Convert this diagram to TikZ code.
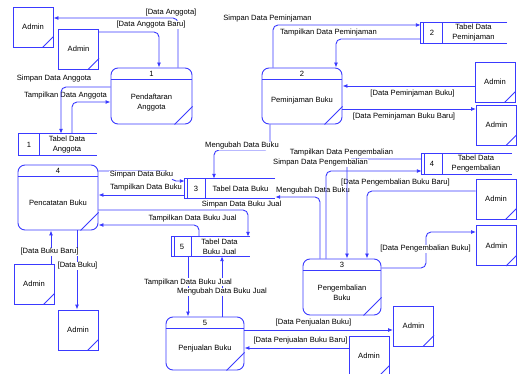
\documentclass[tikz,border=0pt]{standalone}
\usepackage{fontspec}
\setmainfont{Liberation Sans}
\usetikzlibrary{arrows.meta}
\definecolor{blu}{RGB}{58,58,255}
\newcommand\entcorner[1]{\draw[ln] ([xshift=-11pt]#1.south east) -- ([yshift=11pt]#1.south east);}
\newcommand\procdeco[1]{%
  \draw[ln] ([yshift=-11.5pt]#1.north west) -- ([yshift=-11.5pt]#1.north east);
  \draw[ln] ([yshift=18pt]#1.south east) -- ([xshift=-18pt]#1.south east);}
\newcommand\storebox[2]{%
  \draw[ln] (#1.north east) -- (#1.north west) -- (#1.south west) -- (#1.south east);
  \draw[ln] (#1.north west -| #2,0) -- (#1.south west -| #2,0);}
\newcommand\storedbl[1]{\draw[ln] ([xshift=3pt]#1.north west) -- ([xshift=3pt]#1.south west);}
\begin{document}
\begin{tikzpicture}[x=1pt,y=-1pt,
  ln/.style={draw=blu,line width=0.9pt},
  flow/.style={ln,rounded corners=5pt,-{Latex[length=5pt,width=4pt]}},
  lbl/.style={font=\fontsize{7.6}{9}\selectfont,fill=white,inner sep=0.5pt,text=black,text height=5.6pt,text depth=1.6pt},
  txt/.style={font=\fontsize{7.6}{10}\selectfont,align=center,inner sep=0pt,text=black},
  ent/.style={ln,minimum width=40pt,minimum height=40pt,inner sep=0pt,text=black,font=\fontsize{7.6}{10}\selectfont},
  proc/.style={ln,rounded corners=7pt,inner sep=0pt},
  sto/.style={inner sep=0pt}]
\useasboundingbox (0,0) rectangle (517,374);

% external entities
\node[ent] (a1) at (33,27) {Admin}; \entcorner{a1}
\node[ent] (a2) at (78.5,49) {Admin}; \entcorner{a2}
\node[ent] (a3) at (495,82) {Admin}; \entcorner{a3}
\node[ent] (a4) at (496.5,125) {Admin}; \entcorner{a4}
\node[ent] (a9) at (496,199) {Admin}; \entcorner{a9}
\node[ent] (a10) at (496.5,245.5) {Admin}; \entcorner{a10}
\node[ent] (a5) at (34,284) {Admin}; \entcorner{a5}
\node[ent] (a6) at (78,330) {Admin}; \entcorner{a6}
\node[ent] (a7) at (413.5,326) {Admin}; \entcorner{a7}
\node[ent] (a8) at (369,356) {Admin}; \entcorner{a8}

% processes
\node[proc,minimum width=81pt,minimum height=56pt] (p1) at (151.5,96) {}; \procdeco{p1}
\node[txt] (p1n) at (151.5,74) {1};
\node[txt] (p1t) at (151.5,102.5) {Pendaftaran\\Anggota};
\node[proc,minimum width=80pt,minimum height=56pt] (p2) at (302,96) {}; \procdeco{p2}
\node[txt] (p2n) at (302,73.5) {2};
\node[txt] (p2t) at (302,101) {Peminjaman Buku};
\node[proc,minimum width=80pt,minimum height=65pt] (p4) at (58,197.5) {}; \procdeco{p4}
\node[txt] (p4n) at (58,170.5) {4};
\node[txt] (p4t) at (58,203) {Pencatatan Buku};
\node[proc,minimum width=78pt,minimum height=53pt] (p5) at (205,343.5) {}; \procdeco{p5}
\node[txt] (p5n) at (205,322.5) {5};
\node[txt] (p5t) at (205,349) {Penjualan Buku};
\node[proc,minimum width=78pt,minimum height=56pt] (p3) at (342,287) {}; \procdeco{p3}
\node[txt] (p3n) at (342,264.5) {3};
\node[txt] (p3t) at (342,292.5) {Pengembalian\\Buku};

% data stores
\node[sto,minimum width=78pt,minimum height=21pt] (s1) at (58,144.5) {}; \storebox{s1}{39}
\node[txt] (s1n) at (29,144.5) {1};
\node[txt] (s1t) at (67,144.5) {Tabel Data\\Anggota};
\node[sto,minimum width=86pt,minimum height=20pt] (s2) at (464,33) {}; \storebox{s2}{442} \storedbl{s2}
\node[txt] (s2n) at (432,33) {2};
\node[txt] (s2t) at (473.5,33) {Tabel Data\\Peminjaman};
\node[sto,minimum width=90pt,minimum height=19pt] (s3) at (230,188.5) {}; \storebox{s3}{205} \storedbl{s3}
\node[txt] (s3n) at (196,188.5) {3};
\node[txt] (s3t) at (240.5,188.5) {Tabel Data Buku};
\node[sto,minimum width=90pt,minimum height=20pt] (s4) at (467,164) {}; \storebox{s4}{442} \storedbl{s4}
\node[txt] (s4n) at (432,164) {4};
\node[txt] (s4t) at (476,164) {Tabel Data\\Pengembalian};
\node[sto,minimum width=78pt,minimum height=19pt] (s5) at (211,246.5) {}; \storebox{s5}{191} \storedbl{s5}
\node[txt] (s5n) at (182,246.5) {5};
\node[txt] (s5t) at (219.5,246.5) {Tabel Data\\Buku Jual};

% flows (group A)
\draw[flow] (p1.north -| 178,0) |- (a1.east |- 0,18);
\draw[flow] (a2.east |- 0,32) -| (p1.north -| 159,0);
\draw[flow] (s1.north -| 72,0) |- (p1.west |- 0,102);
\draw[flow] (p2.north -| 273,0) |- (s2.west |- 0,25);
\draw[flow] (s2.west |- 0,39) -| (p2.north -| 336,0);
\draw[flow] (a3.west |- 0,86) -- (p2.east |- 0,86);
\draw[flow] (p2.east |- 0,109) -- (a4.west |- 0,109);
\draw[flow] (p2.south -| 270,0) -- (270,150) -| (s3.north -| 214,0);
\draw[flow] (p4.east |- 0,171) -- (171,171) |- (s3.west |- 0,181);
\draw[flow] (s3.west |- 0,195) -- (p4.east |- 0,195);
\draw[flow] (p4.east |- 0,210) -| (s5.north -| 248,0);
\draw[flow] (s5.north -| 199,0) |- (p4.east |- 0,225);
\draw[flow] (a5.north -| 51,0) -- (p4.south -| 51,0);
\draw[flow] (p4.south -| 77,0) -- (a6.north -| 77,0);
\draw[flow] (s5.south -| 188,0) -- (p5.north -| 188,0);
\draw[flow] (p5.north -| 222,0) -- (s5.south -| 222,0);
\draw[flow] (p5.east |- 0,330) -- (a7.west |- 0,330);
\draw[flow] (a8.west |- 0,348) -- (p5.east |- 0,348);
\draw[flow] (p3.north -| 320,0) |- (s3.east |- 0,197);
\draw[flow] (p3.east |- 0,268) -- (426,268) |- (a10.west |- 0,232);

% labels (group A)
\node[lbl] (l1) at (171,13) {[Data Anggota]};
\node[lbl] (l2) at (151,25) {[Data Anggota Baru]};
\node[lbl] (l3) at (54,79) {Simpan Data Anggota};
\node[lbl] (l4) at (65.5,96) {Tampilkan Data Anggota};
\node[lbl] (l5) at (267.5,19) {Simpan Data Peminjaman};
\node[lbl] (l6) at (328.5,33) {Tampilkan Data Peminjaman};
\node[lbl] (l7) at (412.5,94) {[Data Peminjaman Buku]};
\node[lbl] (l8) at (404,117) {[Data Peminjaman Buku Baru]};
\node[lbl] (l9) at (242,146) {Mengubah Data Buku};
\node[lbl] (l10) at (141.5,175) {Simpan Data Buku};
\node[lbl] (l11) at (146,188) {Tampilkan Data Buku};
\node[lbl] (l12) at (241.5,205) {Simpan Data Buku Jual};
\node[lbl] (l13) at (192.5,219) {Tampilkan Data Buku Jual};
\node[lbl] (l14) at (49.5,252) {[Data Buku Baru]};
\node[lbl] (l15) at (77.5,266) {[Data Buku]};
\node[lbl] (l16) at (188,282) {Tampilkan Data Buku Jual};
\node[lbl] (l17) at (222,292) {Mengubah Data Buku Jual};
\node[lbl] (l18) at (313.5,322) {[Data Penjualan Buku]};
\node[lbl] (l19) at (300.5,340) {[Data Penjualan Buku Baru]};
\node[lbl] (l20) at (313,191) {Mengubah Data Buku};
\node[lbl] (l21) at (425.5,249) {[Data Pengembalian Buku]};

% flows and labels (group B)
\draw[flow] (p1.west |- 0,87) -| (s1.north -| 61,0);
\draw[flow] (a9.west |- 0,191) -| (p3.north -| 367,0);
\node[lbl] (l22) at (395.5,183) {[Data Pengembalian Buku Baru]};
\draw[flow] (s4.west |- 0,159) -| (p3.north -| 347,0);
\draw[flow] (p3.north -| 326,0) |- (s4.west |- 0,171);
\node[lbl] (l23) at (341.5,153) {Tampilkan Data Pengembalian};
\node[lbl] (l24) at (320.5,163) {Simpan Data Pengembalian};
\end{tikzpicture}
\end{document}
